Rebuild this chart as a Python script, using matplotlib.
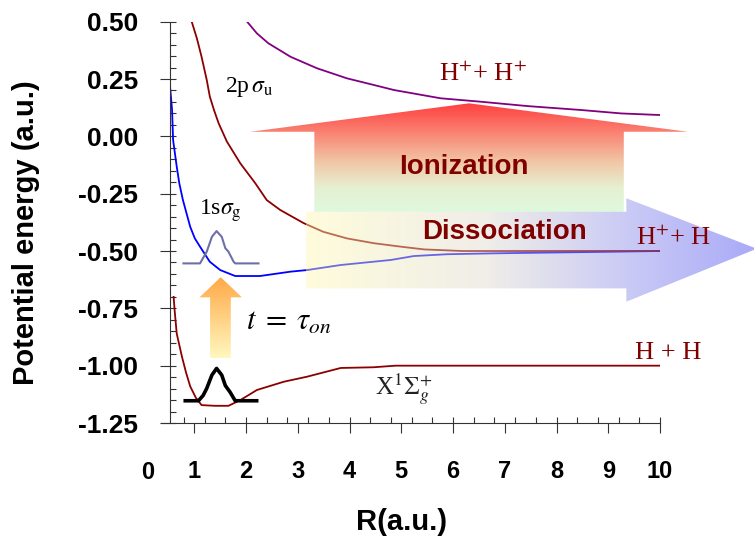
import numpy as np
import matplotlib
matplotlib.use('Agg')
import matplotlib.pyplot as plt
from matplotlib.patches import Polygon
from matplotlib.colors import LinearSegmentedColormap
from matplotlib.ticker import MultipleLocator

plt.rcParams['font.family'] = ['Liberation Sans', 'DejaVu Sans']
plt.rcParams['mathtext.fontset'] = 'stix'
plt.rcParams['axes.unicode_minus'] = False

# potential curves (R in a.u., E in a.u.)
ground_R = [0.60, 0.62, 0.66, 0.76, 0.84, 0.92, 1.03, 1.14, 1.40, 1.66, 1.89, 2.21,
            2.73, 3.18, 3.83, 4.46, 4.89, 6.0, 7.0, 8.0, 9.0, 10.0]
ground_E = [-0.70, -0.76, -0.86, -0.96, -1.03, -1.09, -1.14, -1.172, -1.175, -1.175,
            -1.150, -1.106, -1.070, -1.048, -1.010, -1.007, -1.000, -1.0, -1.0, -1.0,
            -1.0, -1.0]

sigma_g_R = [0.53, 0.57, 0.59, 0.66, 0.71, 0.78, 0.92, 1.01, 1.11, 1.30, 1.50, 1.79,
             2.27, 2.86, 3.18, 3.83, 4.80, 5.24, 5.89, 6.83, 8.12, 10.0]
sigma_g_E = [0.22, 0.115, -0.016, -0.132, -0.205, -0.278, -0.394, -0.445, -0.481,
             -0.547, -0.583, -0.609, -0.609, -0.590, -0.583, -0.561, -0.539, -0.522,
             -0.514, -0.510, -0.506, -0.50]

sigma_u_R = [0.95, 1.05, 1.14, 1.24, 1.30, 1.38, 1.47, 1.63, 1.89, 2.18, 2.40, 2.66,
             3.11, 3.49, 3.95, 4.47, 4.99, 5.44, 6.18, 7.0, 8.0, 9.0, 10.0]
sigma_u_E = [0.50, 0.427, 0.347, 0.246, 0.173, 0.115, 0.057, -0.023, -0.118, -0.205,
             -0.278, -0.321, -0.378, -0.416, -0.445, -0.466, -0.481, -0.493, -0.500,
             -0.50, -0.50, -0.50, -0.50]

coulomb_R = [2.02, 2.21, 2.43, 2.86, 3.37, 3.95, 4.47, 4.86, 5.76, 6.54, 7.44, 8.47,
             9.25, 10.0]
coulomb_E = [0.50, 0.449, 0.406, 0.347, 0.297, 0.253, 0.224, 0.202, 0.166, 0.151,
             0.132, 0.115, 0.100, 0.093]

# wave packets
packet_R = [0.79, 1.08, 1.17, 1.24, 1.34, 1.43, 1.53, 1.60, 1.69, 1.79, 2.24]
packet0_E = [-1.153, -1.153, -1.13, -1.099, -1.041, -1.012, -1.041, -1.087, -1.115,
             -1.153, -1.153]
packet1_R = [0.79, 1.11, 1.24, 1.34, 1.43, 1.53, 1.60, 1.66, 1.76, 1.79, 2.24]
packet1_E = [-0.554, -0.554, -0.503, -0.438, -0.413, -0.438, -0.488, -0.503, -0.547,
             -0.554, -0.554]

x_ticks = [1, 2, 3, 4, 5, 6, 7, 8, 9, 10]
y_ticks = [-1.25, -1.0, -0.75, -0.5, -0.25, 0.0, 0.25, 0.5]

fig = plt.figure(figsize=(7.54, 5.48), dpi=100)
ax = fig.add_axes([170 / 754, 1 - 423 / 548, 490 / 754, 401.3 / 548])
ax.patch.set_visible(False)

ax.plot(ground_R, ground_E, color='#8B0000', lw=1.3)
ax.plot(sigma_g_R, sigma_g_E, color='#0000FF', lw=1.3)
ax.plot(sigma_u_R, sigma_u_E, color='#8B0000', lw=1.3)
ax.plot(coulomb_R, coulomb_E, color='#800080', lw=1.3)
ax.plot(packet_R, packet0_E, color='black', lw=2.6, solid_capstyle='butt')
ax.plot(packet1_R, packet1_E, color='#6F6FA8', lw=1.5)

ax.set_xlim(0.53, 10)
ax.set_ylim(-1.25, 0.5)
ax.spines[['top', 'right']].set_visible(False)
for s in ['left', 'bottom']:
    ax.spines[s].set_color('#333333')
    ax.spines[s].set_linewidth(0.8)
ax.spines['bottom'].set_bounds(0.35, 10)

ax.set_xticks(x_ticks)
ax.set_xticks(np.arange(0.8, 10.01, 0.4), minor=True)
ax.set_yticks(y_ticks)
ax.set_yticklabels([f'{v:.2f}' for v in y_ticks])
ax.yaxis.set_minor_locator(MultipleLocator(0.05))
ax.xaxis.remove_overlapping_locs = False
ax.yaxis.remove_overlapping_locs = False
ax.tick_params(which='major', direction='out', length=7, width=0.8, color='#333333')
ax.tick_params(which='minor', direction='in', length=4.5, width=0.8, color='#333333')
ax.tick_params(axis='x', which='major', pad=20, labelsize=17)
ax.tick_params(axis='y', which='major', pad=16, labelsize=19)
for lab in ax.get_xticklabels() + ax.get_yticklabels():
    lab.set_fontweight('bold')

ax.set_xlabel('R(a.u.)', fontsize=21, fontweight='bold')
ax.set_ylabel('Potential energy (a.u.)', fontsize=21, fontweight='bold')
ax.xaxis.set_label_coords(0.473, -0.212)
ax.yaxis.set_label_coords(-0.265, 0.475)

# overlay axes sharing the data coordinates, used for arrows and labels
ax2 = fig.add_axes([0, 0, 1, 1], zorder=5)
ax2.axis('off')
pos = ax.get_position()
x0, x1 = ax.get_xlim()
y0, y1 = ax.get_ylim()
sx = (x1 - x0) / pos.width
sy = (y1 - y0) / pos.height
lims_x = (x0 - pos.x0 * sx, x0 + (1 - pos.x0) * sx)
lims_y = (y0 - pos.y0 * sy, y0 + (1 - pos.y0) * sy)
ax2.set_xlim(*lims_x)
ax2.set_ylim(*lims_y)


def gradient_arrow(verts, colors, vertical, alpha=1.0):
    poly = Polygon(verts, closed=True, transform=ax2.transData,
                   facecolor='none', edgecolor='none')
    xs = [v[0] for v in verts]
    ys = [v[1] for v in verts]
    cmap = LinearSegmentedColormap.from_list('g', colors)
    g = np.linspace(0, 1, 256)
    img = g.reshape(-1, 1) if vertical else g.reshape(1, -1)
    ax2.imshow(img, cmap=cmap, extent=[min(xs), max(xs), min(ys), max(ys)],
               origin='upper', aspect='auto', interpolation='bilinear',
               clip_path=poly, alpha=alpha, zorder=1)


# ionization (upward)
gradient_arrow([(6.31, 0.144), (10.54, 0.02), (9.30, 0.02), (9.30, -0.329),
                (3.32, -0.329), (3.32, 0.02), (2.08, 0.02)],
               [(0, '#FF4040'), (0.3, '#F98A78'), (0.55, '#F0C9A8'),
                (0.78, '#E6F0D2'), (1, '#DEF9DE')], vertical=True)
# dissociation (rightward)
gradient_arrow([(3.15, -0.329), (9.35, -0.329), (9.35, -0.270), (11.87, -0.49),
                (9.35, -0.721), (9.35, -0.663), (3.15, -0.663)],
               [(0, '#FFF8B1'), (0.4, '#DDD9CC'), (0.7, '#8C8CEA'), (1, '#4040F0')],
               vertical=False, alpha=0.45)
# excitation (small upward)
gradient_arrow([(1.51, -0.614), (1.92, -0.702), (1.705, -0.702), (1.705, -0.968),
                (1.305, -0.968), (1.305, -0.702), (1.10, -0.702)],
               [(0, '#FFA845'), (1, '#FFF8C0')], vertical=True)

ax2.set_xlim(*lims_x)
ax2.set_ylim(*lims_y)

dark_red = '#800000'
serif = 'Liberation Serif'
ax2.text(6.20, -0.132, 'Ionization', fontsize=20, fontweight='bold', color=dark_red,
         ha='center', va='center', zorder=3)
ax2.text(6.99, -0.416, 'Dissociation', fontsize=20, fontweight='bold', color=dark_red,
         ha='center', va='center', zorder=3)
ax2.text(5.72, 0.272, r'H$^{+}$+ H$^{+}$', fontsize=19, family=serif, color=dark_red,
         ha='left', va='center', zorder=3)
ax2.text(9.54, -0.445, r'H$^{+}$+ H', fontsize=19, family=serif, color=dark_red,
         ha='left', va='center', zorder=3)
ax2.text(9.52, -0.946, 'H + H', fontsize=19, family=serif, color=dark_red,
         ha='left', va='center', zorder=3)
ax2.text(1.59, 0.215, r'2p$\,\sigma_{\rm u}$', fontsize=17, family=serif, color='black',
         ha='left', va='center', zorder=3)
ax2.text(1.10, -0.322, r'1s$\sigma_{\rm g}$', fontsize=17, family=serif, color='black',
         ha='left', va='center', zorder=3)
ax2.text(2.00, -0.81, r'$t\;=\;\tau_{on}$', fontsize=22, color='black',
         ha='left', va='center', zorder=3)
ax2.text(4.50, -1.106, r'X$^{1}\Sigma_{g}^{+}$', fontsize=18, family=serif,
         color='#222222', ha='left', va='center', zorder=3)
ax2.text(0.10, -1.468, '0', fontsize=17, fontweight='bold', ha='center', va='center',
         zorder=3)

fig.savefig('out.png', dpi=100)
